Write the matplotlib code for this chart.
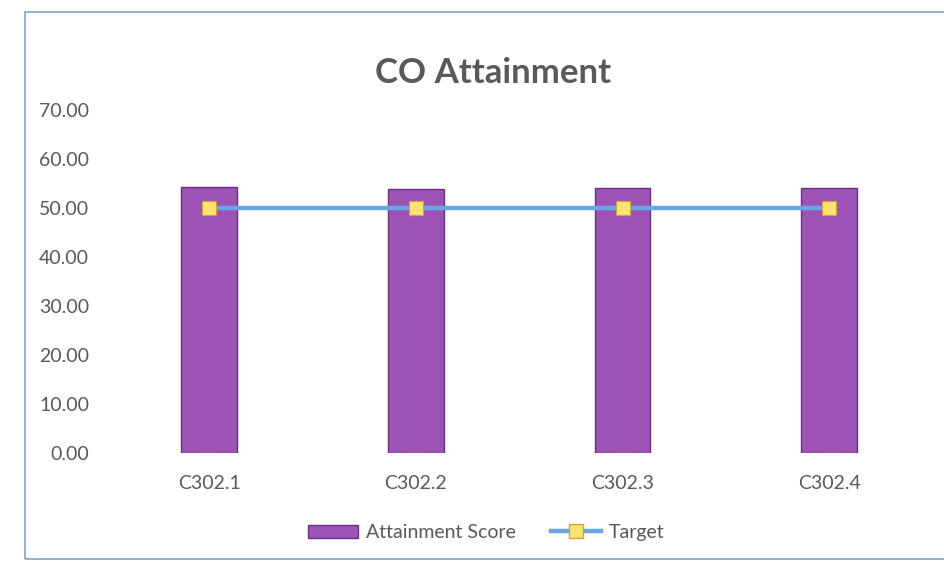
import matplotlib.pyplot as plt
from matplotlib.patches import Rectangle
from matplotlib.lines import Line2D
from matplotlib.patches import Patch

plt.rcParams['font.family'] = ['Lato', 'DejaVu Sans']

categories = ['C302.1', 'C302.2', 'C302.3', 'C302.4']
attainment = [54.3, 53.8, 54.1, 54.1]
target = [50.0, 50.0, 50.0, 50.0]
yticks = [0, 10, 20, 30, 40, 50, 60, 70]

text_grey = '#595959'
bar_color = '#9D53B6'
bar_edge = '#6A2F85'
line_color = '#6AA6E6'
marker_color = '#FFE36E'

fig = plt.figure(figsize=(9.44, 5.79), dpi=100)
ax = fig.add_axes([0.112, 0.218, 0.876, 0.592])

x = range(len(categories))
ax.bar(x, attainment, width=0.27, color=bar_color, edgecolor=bar_edge, linewidth=1, zorder=2)
ax.plot(x, target, color=line_color, linewidth=3.2, marker='s', markersize=10,
        markerfacecolor=marker_color, markeredgecolor='#C9A53A', markeredgewidth=0.8, zorder=3)

ax.set_xlim(-0.5, len(categories) - 0.5)
ax.set_ylim(0, 70)
ax.set_yticks(yticks)
ax.set_yticklabels(['%.2f' % v for v in yticks], fontsize=14, color=text_grey)
ax.set_xticks(list(x))
ax.set_xticklabels(categories, fontsize=14, color=text_grey)
ax.tick_params(axis='both', length=0)
ax.tick_params(axis='x', pad=16)
ax.tick_params(axis='y', pad=12)
for s in ax.spines.values():
    s.set_visible(False)

fig.text(0.522, 0.874, 'CO Attainment', ha='center', va='center', fontsize=25,
         fontweight='bold', color=text_grey)

handles = [Patch(facecolor=bar_color, edgecolor=bar_edge, label='Attainment Score'),
           Line2D([0], [0], color=line_color, linewidth=3.2, marker='s', markersize=10,
                  markerfacecolor=marker_color, markeredgecolor='#C9A53A', label='Target')]
fig.legend(handles=handles, loc='center', bbox_to_anchor=(0.515, 0.08), ncol=2,
           frameon=False, fontsize=14, labelcolor=text_grey, handlelength=2.6,
           columnspacing=1.8, handletextpad=0.4)

# chart border
fig.patches.append(Rectangle((0.027, 0.035), 0.98, 0.945, transform=fig.transFigure,
                             fill=False, edgecolor='#7FA3CC', linewidth=1.2))

fig.savefig('out.png', dpi=100)
